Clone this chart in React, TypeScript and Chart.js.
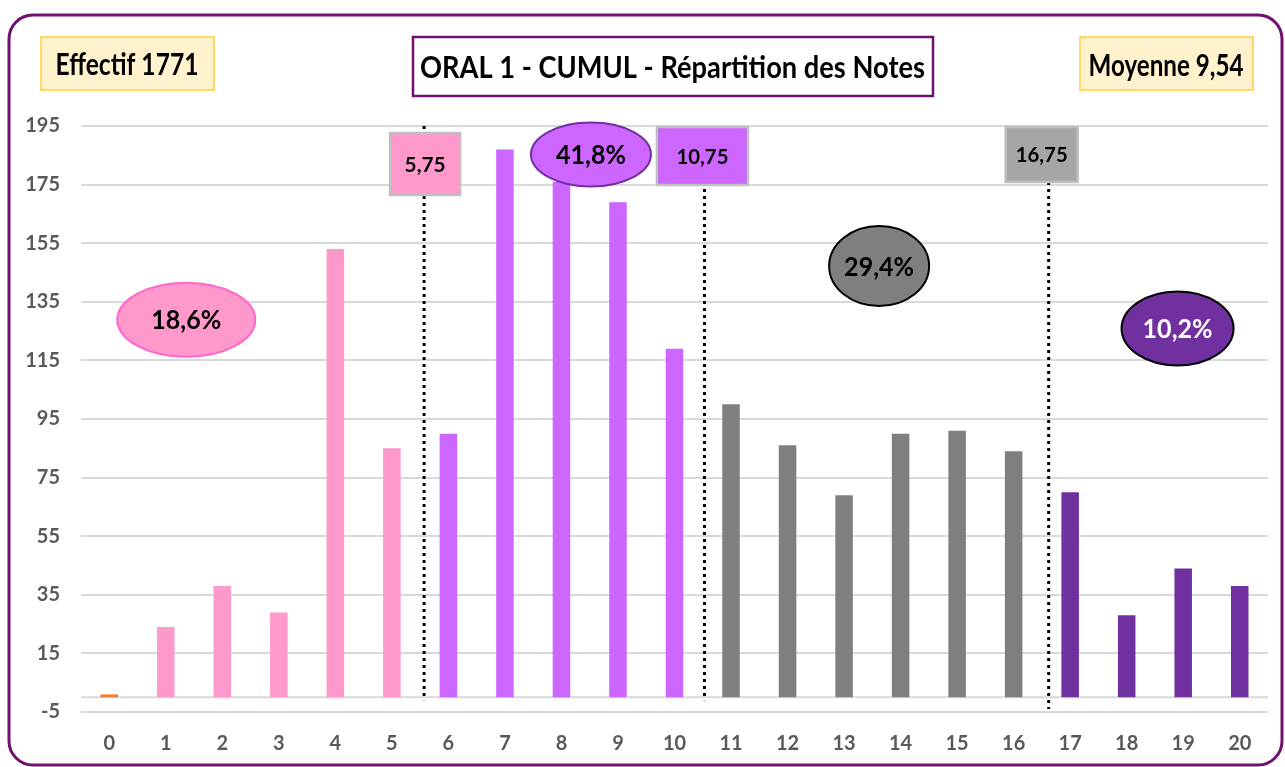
import React, { useEffect, useRef } from 'react';
import { Chart, registerables } from 'chart.js';

Chart.register(...registerables);

// ---- Data ----
const notes = ['0', '1', '2', '3', '4', '5', '6', '7', '8', '9', '10', '11', '12', '13', '14', '15', '16', '17', '18', '19', '20'];
const effectifs = [1, 24, 38, 29, 153, 85, 90, 187, 176, 169, 119, 100, 86, 69, 90, 91, 84, 70, 28, 44, 38];
const graduations = [-5, 15, 35, 55, 75, 95, 115, 135, 155, 175, 195];
const seuils = ['5,75', '10,75', '16,75'];
const pourcentages = ['18,6%', '41,8%', '29,4%', '10,2%'];
const titre = 'ORAL 1 - CUMUL - Répartition des Notes';
const effectifTexte = 'Effectif 1771';
const moyenneTexte = 'Moyenne 9,54';

// ---- Styles / placement ----
const FONT = "Lato, 'Open Sans', 'DejaVu Sans', sans-serif";
const PURPLE_BORDER = '#70106F';

function couleurNote(i: number): string {
  if (i === 0) return '#ED7D31';
  if (i <= 5) return '#FF99CC';
  if (i <= 10) return '#CC66FF';
  if (i <= 16) return '#7F7F7F';
  return '#7030A0';
}

// dotted threshold lines (category position, lower value end) and their label boxes
const seuilStyle = [
  { pos: 5.57, bas: -1, fill: '#FF99CC', dx: 1, w: 70, top: 133, bottom: 195, textW: 41 },
  { pos: 10.53, bas: -1, fill: '#CC66FF', dx: -2, w: 91, top: 127, bottom: 185, textW: 52 },
  { pos: 16.62, bas: -4, fill: '#A6A6A6', dx: -7, w: 72, top: 127, bottom: 182, textW: 52 },
];

const ellipseStyle = [
  { x: 1.363, y: 128.9, rx: 69, ry: 37, fill: '#FF99CC', stroke: '#FF66CC', text: '#000000' },
  { x: 8.522, y: 185.3, rx: 60, ry: 32, fill: '#CC66FF', stroke: '#7030A0', text: '#000000' },
  { x: 13.62, y: 147.2, rx: 50, ry: 40, fill: '#7F7F7F', stroke: '#000000', text: '#000000' },
  { x: 18.9, y: 125.9, rx: 56, ry: 37, fill: '#7030A0', stroke: '#000000', text: '#FFFFFF' },
];

// draw text so that its advance width is targetW and its capital height is capH, caps centred on cy
function fitText(ctx: CanvasRenderingContext2D, text: string, cx: number, cy: number, targetW: number, capH: number, color: string) {
  ctx.save();
  ctx.font = `bold 40px ${FONT}`;
  const w = ctx.measureText(text).width;
  const cap = ctx.measureText('H').actualBoundingBoxAscent || 29;
  const sx = targetW / w;
  const sy = capH / cap;
  ctx.translate(cx, cy);
  ctx.scale(sx, sy);
  ctx.fillStyle = color;
  ctx.textAlign = 'center';
  ctx.textBaseline = 'alphabetic';
  ctx.fillText(text, 0, cap / 2);
  ctx.restore();
}

function box(ctx: CanvasRenderingContext2D, x1: number, y1: number, x2: number, y2: number, fill: string, stroke: string, lw: number) {
  ctx.save();
  ctx.fillStyle = fill;
  ctx.fillRect(x1, y1, x2 - x1, y2 - y1);
  ctx.strokeStyle = stroke;
  ctx.lineWidth = lw;
  ctx.strokeRect(x1, y1, x2 - x1, y2 - y1);
  ctx.restore();
}

const decor = {
  id: 'decor',
  beforeDraw(chart: any) {
    const ctx = chart.ctx as CanvasRenderingContext2D;
    ctx.save();
    ctx.fillStyle = '#FFFFFF';
    ctx.fillRect(0, 0, chart.width, chart.height);
    ctx.restore();
  },
  beforeDatasetsDraw(chart: any) {
    const ctx = chart.ctx as CanvasRenderingContext2D;
    const { left, right } = chart.chartArea;
    const y0 = chart.scales.y.getPixelForValue(0);
    ctx.save();
    ctx.strokeStyle = '#D9D9D9';
    ctx.lineWidth = 2;
    ctx.beginPath();
    ctx.moveTo(left, y0);
    ctx.lineTo(right, y0);
    ctx.stroke();
    ctx.restore();
  },
  afterDatasetsDraw(chart: any) {
    const ctx = chart.ctx as CanvasRenderingContext2D;
    const xs = chart.scales.x;
    const ys = chart.scales.y;
    const px = (v: number) => {
      const a = xs.getPixelForValue(Math.floor(v));
      const b = xs.getPixelForValue(Math.floor(v) + 1);
      return a + (b - a) * (v - Math.floor(v));
    };

    // dotted threshold lines + boxes
    seuils.forEach((label, i) => {
      const s = seuilStyle[i];
      const x = px(s.pos);
      ctx.save();
      ctx.strokeStyle = '#000000';
      ctx.lineWidth = 3;
      ctx.setLineDash([3, 4]);
      ctx.beginPath();
      ctx.moveTo(x, ys.getPixelForValue(195));
      ctx.lineTo(x, ys.getPixelForValue(s.bas));
      ctx.stroke();
      ctx.restore();
      const cx = x + s.dx;
      box(ctx, cx - s.w / 2, s.top, cx + s.w / 2, s.bottom, s.fill, '#BFBFBF', 2.5);
      fitText(ctx, label, cx, (s.top + s.bottom) / 2, s.textW, 15.5, '#000000');
    });

    // ellipses with percentages
    pourcentages.forEach((label, i) => {
      const e = ellipseStyle[i];
      const cx = px(e.x);
      const cy = ys.getPixelForValue(e.y);
      ctx.save();
      ctx.beginPath();
      ctx.ellipse(cx, cy, e.rx, e.ry, 0, 0, Math.PI * 2);
      ctx.fillStyle = e.fill;
      ctx.fill();
      ctx.lineWidth = 2;
      ctx.strokeStyle = e.stroke;
      ctx.stroke();
      ctx.restore();
      fitText(ctx, label, cx, cy, 70, 19.5, e.text);
    });

    // top boxes
    box(ctx, 41, 37, 214, 90, '#FFF2CC', '#FFD966', 2);
    fitText(ctx, effectifTexte, 127, 64.5, 143, 21.5, '#000000');
    box(ctx, 413, 37, 933, 96, '#FFFFFF', PURPLE_BORDER, 2.5);
    fitText(ctx, titre, 672.5, 67, 505, 21.5, '#000000');
    box(ctx, 1080, 37, 1253, 90, '#FFF2CC', '#FFD966', 2);
    fitText(ctx, moyenneTexte, 1166, 65, 155, 21.5, '#000000');

    // outer rounded border
    ctx.save();
    ctx.strokeStyle = PURPLE_BORDER;
    ctx.lineWidth = 3;
    ctx.beginPath();
    (ctx as any).roundRect(9, 15, 1273, 750, 24);
    ctx.stroke();
    ctx.restore();
  },
};

export default function App() {
  const ref = useRef<HTMLCanvasElement | null>(null);

  useEffect(() => {
    document.body.style.margin = '0';
    document.body.style.overflow = 'hidden';
    const canvas = ref.current;
    if (!canvas) return;
    const tickFont = { family: FONT, size: 20, weight: 'bold' as const };
    const chart = new Chart(canvas, {
      type: 'bar',
      data: {
        labels: notes,
        datasets: [
          {
            data: effectifs,
            backgroundColor: notes.map((_, i) => couleurNote(i)),
            barPercentage: 0.31,
            categoryPercentage: 1,
            borderWidth: 0,
          },
        ],
      },
      options: {
        responsive: false,
        animation: false,
        devicePixelRatio: 1,
        layout: { padding: { top: 126, right: 17, left: 0, bottom: 0 } },
        plugins: {
          legend: { display: false },
          tooltip: { enabled: false },
          title: { display: false },
        },
        scales: {
          x: {
            grid: { display: false },
            border: { display: false },
            ticks: { color: '#595959', font: tickFont, padding: 12, maxRotation: 0, autoSkip: false },
            afterFit: (s: any) => {
              s.height = 55;
            },
          },
          y: {
            min: -5,
            max: 195,
            grid: { color: '#D9D9D9', lineWidth: 2, drawTicks: false },
            border: { display: false },
            ticks: { color: '#595959', font: tickFont, padding: 21 },
            afterBuildTicks: (s: any) => {
              s.ticks = graduations.map((v) => ({ value: v }));
            },
            afterFit: (s: any) => {
              s.width = 81;
            },
          },
        },
      },
      plugins: [decor],
    });
    return () => chart.destroy();
  }, []);

  return (
    <div style={{ position: 'absolute', left: 0, top: 0, width: 1285, height: 767, background: '#FFFFFF' }}>
      <canvas ref={ref} width={1285} height={767} style={{ display: 'block' }} />
    </div>
  );
}
